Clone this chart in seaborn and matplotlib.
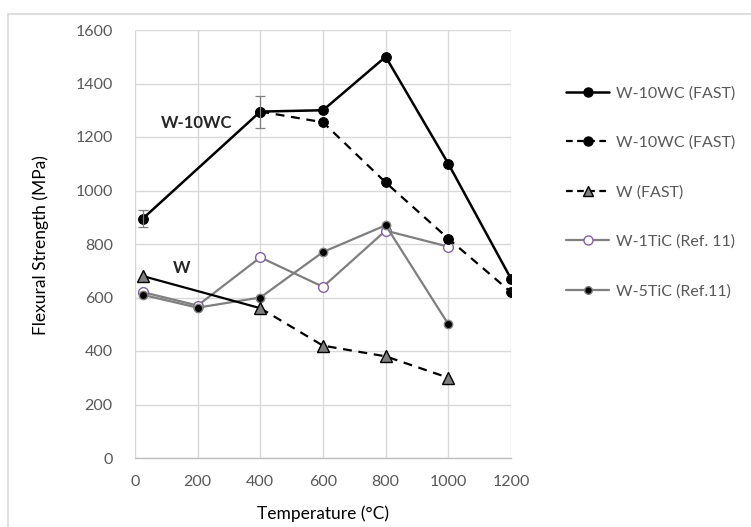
import matplotlib
matplotlib.use("Agg")
import matplotlib.pyplot as plt
from matplotlib.lines import Line2D
import seaborn as sns
import pandas as pd

sns.set_theme(style="white")
plt.rcParams["font.family"] = ["Lato", "DejaVu Sans"]

# Flexural strength (MPa) versus test temperature (°C)
wc_solid_t = [25, 400, 600, 800, 1000, 1200]
wc_solid_s = [895, 1295, 1300, 1500, 1100, 670]
wc_solid_err = [33, 60, 0, 0, 0, 0]

wc_dash_t = [400, 600, 800, 1000, 1200]
wc_dash_s = [1295, 1255, 1030, 820, 620]

w_t = [25, 400, 600, 800, 1000]
w_s = [680, 560, 420, 380, 300]

tic1_t = [25, 200, 400, 600, 800, 1000]
tic1_s = [620, 570, 750, 640, 850, 790]

tic5_t = [25, 200, 400, 600, 800, 1000]
tic5_s = [610, 562, 600, 770, 870, 500]

labels = ["W-10WC (FAST)", "W-10WC (FAST)", "W (FAST)",
          "W-1TiC (Ref. 11)", "W-5TiC (Ref.11)"]
x_ticks = [0, 200, 400, 600, 800, 1000, 1200]
y_ticks = [0, 200, 400, 600, 800, 1000, 1200, 1400, 1600]

W, H = 751, 527
fig = plt.figure(figsize=(W / 100, H / 100), dpi=100)
ax = fig.add_axes([135 / W, 1 - 458 / H, (511 - 135) / W, (458 - 30) / H])

GRID = "#d9d9d9"
TXT = "#595959"
GRAY = "#7f7f7f"
PURPLE = "#8064A2"

def draw(t, s, **kw):
    df = pd.DataFrame({"t": t, "s": s})
    sns.lineplot(data=df, x="t", y="s", ax=ax, estimator=None, sort=False,
                 legend=False, **kw)

# Reference data (gray lines)
draw(tic1_t, tic1_s, color=GRAY, lw=1.6, marker="o", markersize=7,
     markerfacecolor="white", markeredgecolor=PURPLE, markeredgewidth=1.0, zorder=3)
draw(tic5_t, tic5_s, color=GRAY, lw=1.6, marker="o", markersize=6,
     markerfacecolor="black", markeredgecolor=GRAY, markeredgewidth=1.0, zorder=3)

# Pure W: solid to 400 °C, dashed beyond
draw(w_t[:2], w_s[:2], color="black", lw=1.6, zorder=4)
draw(w_t[1:], w_s[1:], color="black", lw=1.6, linestyle=(0, (4, 3)), zorder=4)
draw(w_t, w_s, color="none", lw=0, marker="^", markersize=8,
     markerfacecolor=GRAY, markeredgecolor="black", markeredgewidth=1.0, zorder=5)

# W-10WC
draw(wc_dash_t, wc_dash_s, color="black", lw=1.6, linestyle=(0, (4, 3)),
     marker="o", markersize=7, markerfacecolor="black", markeredgecolor="black", zorder=5)
draw(wc_solid_t, wc_solid_s, color="black", lw=1.8,
     marker="o", markersize=7, markerfacecolor="black", markeredgecolor="black", zorder=6)

# Error bars on W-10WC
for t, s, e in zip(wc_solid_t, wc_solid_s, wc_solid_err):
    if e > 0:
        ax.errorbar([t], [s], yerr=[e], fmt="none", ecolor=GRAY, elinewidth=0.9,
                    capsize=3.5, capthick=0.9, zorder=7)

ax.set_xlim(0, 1200)
ax.set_ylim(0, 1600)
ax.set_xticks(x_ticks)
ax.set_yticks(y_ticks)
ax.grid(True, color=GRID, lw=1.0)
ax.set_axisbelow(True)
for side in ["top", "right", "left"]:
    ax.spines[side].set_visible(False)
ax.spines["bottom"].set_color("#bfbfbf")
ax.spines["bottom"].set_linewidth(1.0)
ax.tick_params(axis="both", length=0, labelsize=11.5, labelcolor=TXT)
ax.tick_params(axis="x", pad=12)
ax.tick_params(axis="y", pad=16)
ax.set_xlabel("")
ax.set_ylabel("")

# Axis titles
fig.text(323 / W, 1 - 514 / H, "Temperature (°C)", fontsize=12.5, color="black",
         ha="center", va="center")
fig.text(41 / W, 1 - 245 / H, "Flexural Strength (MPa)", fontsize=12.5, color="black",
         ha="center", va="center", rotation=90)

ax.text(198, 1252, "W-10WC", fontsize=12, fontweight="bold", ha="center", va="center")
ax.text(148, 710, "W", fontsize=12, fontweight="bold", ha="center", va="center")

handles = [
    Line2D([], [], color="black", lw=1.8, marker="o", markersize=6.5,
           markerfacecolor="black", markeredgecolor="black"),
    Line2D([], [], color="black", lw=1.6, linestyle=(0, (3, 2)), marker="o", markersize=6.5,
           markerfacecolor="black", markeredgecolor="black"),
    Line2D([], [], color="black", lw=1.6, linestyle=(0, (3, 2)), marker="^", markersize=7,
           markerfacecolor=GRAY, markeredgecolor="black"),
    Line2D([], [], color=GRAY, lw=1.6, marker="o", markersize=6.5,
           markerfacecolor="white", markeredgecolor=PURPLE),
    Line2D([], [], color=GRAY, lw=1.6, marker="o", markersize=5.5,
           markerfacecolor="black", markeredgecolor=GRAY),
]
fig.legend(handles, labels, loc="upper left",
           bbox_to_anchor=(566 / W, 1 - 86 / H), bbox_transform=fig.transFigure,
           frameon=False, borderpad=0, borderaxespad=0, fontsize=11.5,
           labelcolor=TXT, handlelength=2.7, handletextpad=0.45, labelspacing=2.2)

# Chart area frame
fig.add_artist(Line2D([8 / W, 8 / W], [0, 1 - 14 / H], transform=fig.transFigure,
                      color=GRID, lw=1.2))
fig.add_artist(Line2D([8 / W, 1], [1 - 14 / H, 1 - 14 / H], transform=fig.transFigure,
                      color=GRID, lw=1.2))

fig.savefig("out.png", dpi=100)
